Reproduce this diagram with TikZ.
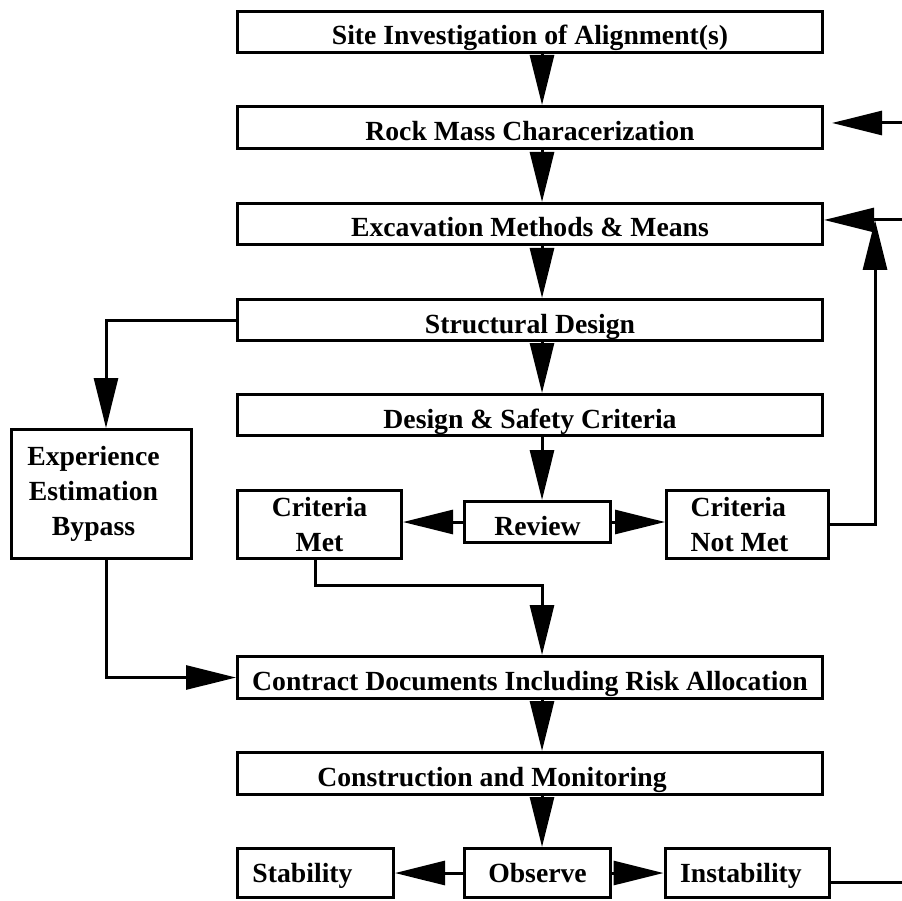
\documentclass[tikz,border=0pt]{standalone}
\usepackage{fontspec}
\setmainfont{Liberation Serif}
\usetikzlibrary{arrows.meta,positioning,calc}

\begin{document}
\begin{tikzpicture}[
  x=1pt,y=-1pt,
  box/.style={draw, line width=3pt, align=center, inner sep=2pt, minimum width=585pt, minimum height=41pt, font=\bfseries\fontsize{27.7}{35}\selectfont},
  row/.style={box, text height=26pt, text depth=0pt},
  low/.style={box, minimum height=49pt, text height=18pt, text depth=0pt},
  arr/.style={-{Triangle[length=50pt,width=24pt]}, line width=3pt}
]
\useasboundingbox (0,0) rectangle (902,901);
% main column
\node[row] (site) at (530,32) {Site Investigation of Alignment(s)};
\node[row, minimum height=42pt] (rock) at (530,127.5) {Rock Mass Characerization};
\node[row] (excav) at (530,224) {Excavation Methods \& Means};
\node[row] (struct) at (530,320) {Structural Design};
\node[row] (crit) at (530,415) {Design \& Safety Criteria};
\node[box, minimum width=164pt, minimum height=68pt] (met) at (319.5,524.5) {Criteria\\Met};
\node[row, minimum width=146pt] (review) at (537.5,522) {Review};
\node[box, minimum width=162pt, minimum height=68pt, align=left] (notmet) at (747.5,524.5) {Criteria\\Not Met\kern16pt};
\node[box, minimum width=180pt, minimum height=129pt] (exper) at (101.5,494) {Experience\kern16pt\\Estimation\kern16pt\\Bypass\kern16pt};
\node[row, minimum height=42pt] (contract) at (530,677.5) {Contract Documents Including Risk Allocation};
\node[row, minimum height=42pt] (constr) at (530,773.5) {Construction and Monitoring\hspace{76pt}};
% bottom row
\node[low, minimum width=156pt] (stab) at (315.5,873) {Stability\hspace{26pt}};
\node[low, minimum width=146pt] (observe) at (537.5,873) {Observe};
\node[low, minimum width=164pt] (instab) at (747,873) {Instability\hspace{12pt}};
% feedback ends at the right margin
\coordinate (fbrock) at (902,123);
\coordinate (fbexc) at (902,220);
\coordinate (merge) at (875,220);
\coordinate (fbinst) at (902,882);
\draw[arr] ([xshift=12pt]site.south) -- ([xshift=12pt]rock.north); \draw[arr] ([xshift=12pt]rock.south) -- ([xshift=12pt]excav.north); \draw[arr] ([xshift=12pt]excav.south) -- ([xshift=12pt]struct.north); \draw[arr] ([xshift=12pt]struct.south) -- ([xshift=12pt]crit.north);
\draw[arr] ([xshift=12pt]crit.south) -- ([xshift=12pt]crit.south |- review.north);
\draw[arr] (review.west) -- (review.west -| met.east); \draw[arr] (review.east) -- (review.east -| notmet.west);
\draw[arr] (struct.west) -| ([xshift=4.5pt]exper.north);
\draw[arr] ([xshift=4.5pt]exper.south) |- (contract.west);
\draw[arr] ([xshift=-4.5pt]met.south) -- ++(0,25) -| ([xshift=12pt]contract.north);
\draw[arr] (notmet.east) -| (merge);
\draw[arr] (fbexc) -- (fbexc -| excav.east);
\draw[arr, shorten >=8pt] (fbrock) -- (fbrock -| rock.east);
\draw[arr] ([xshift=12pt]contract.south) -- ([xshift=12pt]constr.north); \draw[arr] ([xshift=12pt]constr.south) -- ([xshift=12pt]constr.south |- observe.north);
\draw[arr] (observe.west) -- (stab.east); \draw[arr] (observe.east) -- (instab.west);
\draw[line width=3pt] (instab.east |- fbinst) -- (fbinst);
\end{tikzpicture}
\end{document}
